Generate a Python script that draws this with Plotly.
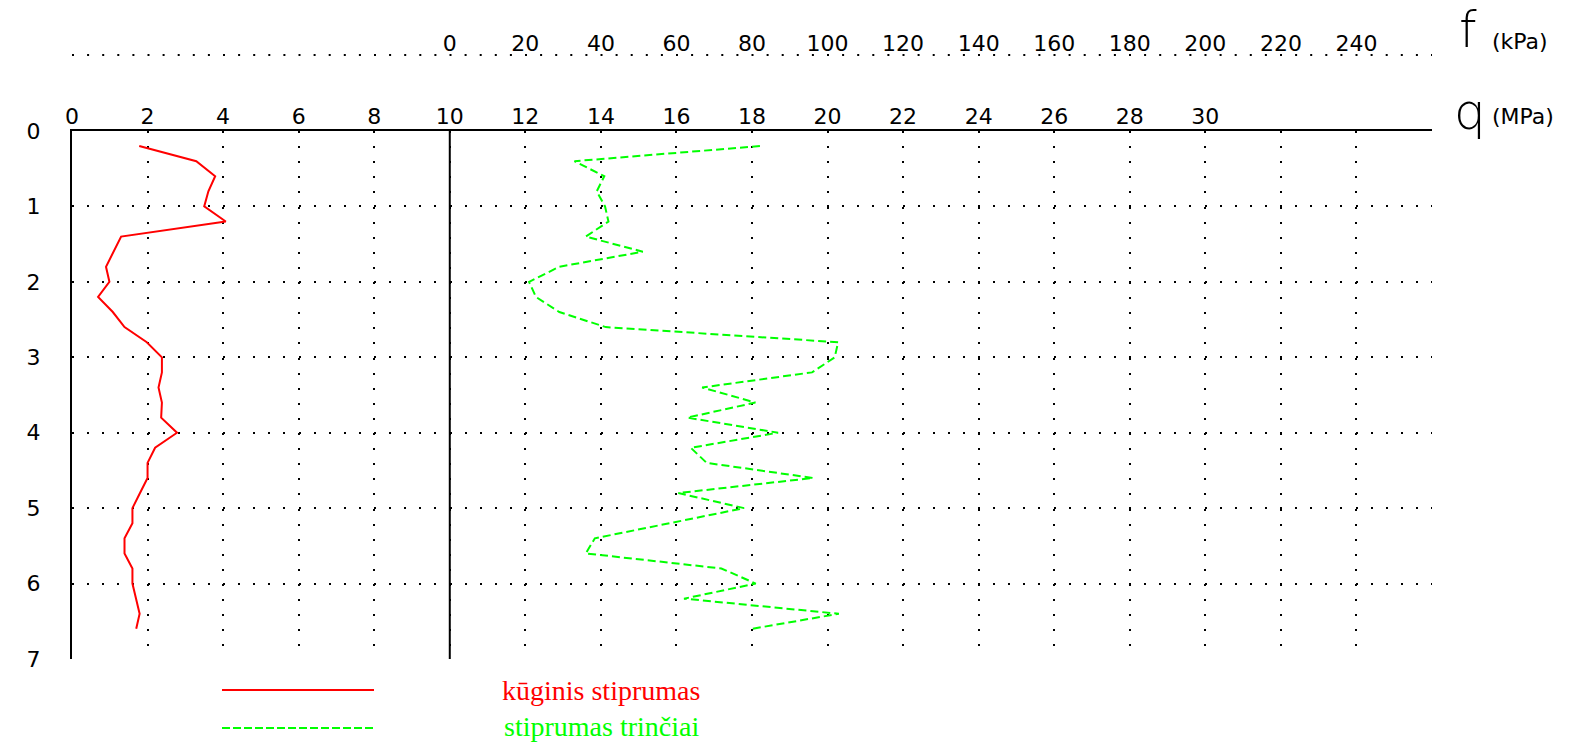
import plotly.graph_objects as go

# profundidad (m), cada 0.2 m
gylis = [0.2, 0.4, 0.6, 0.8, 1.0, 1.2, 1.4, 1.6, 1.8, 2.0, 2.2, 2.4, 2.6, 2.8, 3.0, 3.2, 3.4,
         3.6, 3.8, 4.0, 4.2, 4.4, 4.6, 4.8, 5.0, 5.2, 5.4, 5.6, 5.8, 6.0, 6.2, 6.4, 6.6]

# kuginis stiprumas q (MPa)
q_mpa = [1.78, 3.29, 3.79, 3.61, 3.50, 4.07, 1.30, 1.10, 0.90, 0.99, 0.69, 1.08, 1.39, 1.98,
         2.38, 2.38, 2.29, 2.38, 2.36, 2.78, 2.20, 2.00, 2.00, 1.80, 1.60, 1.60, 1.39, 1.39,
         1.60, 1.60, 1.70, 1.79, 1.70]

# stiprumas trinciai f (kPa)
f_kpa = [82.1, 33.0, 40.9, 38.9, 41.1, 42.0, 36.0, 51.1, 29.0, 21.0, 22.8, 29.0, 41.3, 102.8,
         101.9, 95.9, 66.8, 80.9, 62.9, 86.9, 63.8, 68.0, 96.2, 60.5, 77.9, 58.2, 38.4, 36.0,
         71.9, 81.0, 62.0, 103.0, 80.0]

q_ticks = list(range(0, 36, 2))
q_labels = [str(v) if v <= 30 else "" for v in q_ticks]
f_ticks = list(range(0, 260, 20))
depth_ticks = list(range(0, 8))

# page body margin is removed below, so figure pixels == page pixels
W, H = 1576, 745
L, R, T, B = 72, 144, 20, 86
plot_w = W - L - R
plot_h = H - T - B


def px_x(x):
    return (x - L) / plot_w


def px_y(y):
    return (H - B - y) / plot_h


y_top = px_y(131)   # depth 0 line
f_pos = px_y(55)    # f axis dotted line

DOTS = "2px,13.1px"
TICK_FONT = dict(family="DejaVu Sans", size=22, color="black")

fig = go.Figure()
fig.add_trace(
    go.Scatter(
        x=q_mpa,
        y=gylis,
        mode="lines",
        line=dict(color="#ff0000", width=2),
        showlegend=False,
    )
)
fig.add_trace(
    go.Scatter(
        x=f_kpa,
        y=gylis,
        xaxis="x2",
        mode="lines",
        line=dict(color="#00ff00", width=2, dash="8px,4px"),
        showlegend=False,
    )
)

# vertical solid line at q = 10
fig.add_shape(type="line", xref="x", yref="y", x0=10, x1=10, y0=0, y1=7,
              line=dict(color="black", width=2))
# dotted f axis line
fig.add_shape(type="line", xref="paper", yref="paper", x0=0, x1=1, y0=f_pos, y1=f_pos,
              line=dict(color="black", width=2, dash=DOTS))

# legend
fig.add_shape(type="line", xref="paper", yref="paper", x0=px_x(222), x1=px_x(374),
              y0=px_y(690), y1=px_y(690), line=dict(color="#ff0000", width=2))
fig.add_shape(type="line", xref="paper", yref="paper", x0=px_x(222), x1=px_x(374),
              y0=px_y(728), y1=px_y(728), line=dict(color="#00ff00", width=2, dash="8px,3px"))
fig.add_annotation(text="kūginis stiprumas", xref="paper", yref="paper", x=px_x(601),
                   y=px_y(690), xanchor="center", yanchor="middle", showarrow=False,
                   font=dict(family="Liberation Serif", size=28, color="#ff0000"))
fig.add_annotation(text="stiprumas trinčiai", xref="paper", yref="paper", x=px_x(601),
                   y=px_y(726), xanchor="center", yanchor="middle", showarrow=False,
                   font=dict(family="Liberation Serif", size=28, color="#00ff00"))

# axis titles
fig.add_annotation(text="f", xref="paper", yref="paper", x=px_x(1468), y=px_y(30),
                   xanchor="center", yanchor="middle", showarrow=False,
                   font=dict(family="DejaVu Sans", size=50, color="black", weight=200))
fig.add_annotation(text="(kPa)", xref="paper", yref="paper", x=px_x(1490), y=px_y(41),
                   xanchor="left", yanchor="middle", showarrow=False,
                   font=dict(family="DejaVu Sans", size=22, color="black"))
fig.add_annotation(text="q", xref="paper", yref="paper", x=px_x(1470), y=px_y(112),
                   xanchor="center", yanchor="middle", showarrow=False,
                   font=dict(family="DejaVu Sans", size=50, color="black", weight=200))
fig.add_annotation(text="(MPa)", xref="paper", yref="paper", x=px_x(1490), y=px_y(117),
                   xanchor="left", yanchor="middle", showarrow=False,
                   font=dict(family="DejaVu Sans", size=22, color="black"))

fig.update_layout(
    width=W,
    height=H,
    margin=dict(l=L, r=R, t=T, b=B, autoexpand=False),
    paper_bgcolor="white",
    plot_bgcolor="white",
    showlegend=False,
    xaxis=dict(
        range=[0, 36],
        side="top",
        anchor="y",
        automargin=False,
        tickvals=q_ticks,
        ticktext=q_labels,
        ticks="",
        tickfont=TICK_FONT,
        ticklabelstandoff=-4,
        showline=True,
        linecolor="black",
        linewidth=2,
        showgrid=True,
        gridcolor="black",
        gridwidth=2,
        griddash=DOTS,
        zeroline=False,
    ),
    xaxis2=dict(
        range=[-100, 260],
        overlaying="x",
        anchor="free",
        position=f_pos,
        side="top",
        automargin=False,
        tickvals=f_ticks,
        ticks="",
        tickfont=TICK_FONT,
        showline=False,
        showgrid=False,
        zeroline=False,
    ),
    yaxis=dict(
        range=[7, 0],
        domain=[0, y_top],
        automargin=False,
        tickvals=depth_ticks,
        ticks="",
        tickfont=TICK_FONT,
        ticklabelstandoff=25,
        showline=True,
        linecolor="black",
        linewidth=2,
        showgrid=True,
        gridcolor="black",
        gridwidth=2,
        griddash=DOTS,
        zeroline=False,
    ),
)

fig.write_html(
    "out.html",
    config={"displayModeBar": False},
    post_script="document.body.style.margin = '0';",
)
